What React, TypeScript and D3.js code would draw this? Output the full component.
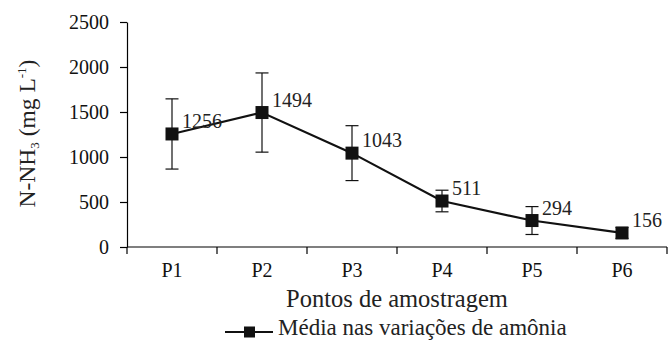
import React, { useEffect, useRef } from 'react';
import * as d3 from 'd3';

const points = ['P1', 'P2', 'P3', 'P4', 'P5', 'P6'];
const means = [1256, 1494, 1043, 511, 294, 156];
const errors = [390, 440, 305, 120, 155, 60];
const yTicks = [0, 500, 1000, 1500, 2000, 2500];

const W = 668;
const H = 340;
const FONT = "'Liberation Serif', 'Times New Roman', Tinos, 'DejaVu Serif', serif";

function App() {
  const ref = useRef<SVGSVGElement>(null);

  useEffect(() => {
    const svg = d3.select(ref.current);
    svg.selectAll('*').remove();

    const left = 127, right = 667, top = 22, bottom = 247;

    const x = d3.scaleBand<string>().domain(points).range([left, right]);
    const y = d3.scaleLinear().domain([0, 2500]).range([bottom, top]);
    const cx = (p: string) => (x(p) as number) + x.bandwidth() / 2;

    // y axis
    const ya = svg.append('g')
      .attr('transform', `translate(${left},0)`)
      .call(d3.axisLeft(y).tickValues(yTicks).tickFormat(d3.format('d')).tickSize(7).tickPadding(11).tickSizeOuter(0));
    ya.attr('font-family', FONT).attr('font-size', 20);
    ya.select('.domain').attr('stroke', '#000').attr('stroke-width', 1.2);
    ya.selectAll('line').attr('stroke', '#000').attr('stroke-width', 1.2);
    ya.selectAll('text').attr('fill', '#111');

    // x axis
    const xa = svg.append('g').attr('transform', `translate(0,${bottom})`)
      .attr('font-family', FONT).attr('font-size', 20);
    xa.append('line').attr('x1', left).attr('x2', right).attr('stroke', '#000').attr('stroke-width', 1.2);
    const bounds = points.map(p => x(p) as number).concat([right]);
    xa.selectAll('line.tk').data(bounds).enter().append('line')
      .attr('class', 'tk')
      .attr('x1', d => d).attr('x2', d => d).attr('y1', 0).attr('y2', 7)
      .attr('stroke', '#000').attr('stroke-width', 1.2);
    xa.selectAll('text').data(points).enter().append('text')
      .attr('x', d => cx(d)).attr('y', 30)
      .attr('text-anchor', 'middle')
      .attr('fill', '#111')
      .text(d => d);

    // error bars
    const eb = svg.append('g').attr('stroke', '#111').attr('stroke-width', 1.2);
    points.forEach((p, i) => {
      const hi = y(means[i] + errors[i]);
      const lo = y(means[i] - errors[i]);
      eb.append('line').attr('x1', cx(p)).attr('x2', cx(p)).attr('y1', hi).attr('y2', lo);
      eb.append('line').attr('x1', cx(p) - 6.5).attr('x2', cx(p) + 6.5).attr('y1', hi).attr('y2', hi);
      eb.append('line').attr('x1', cx(p) - 6.5).attr('x2', cx(p) + 6.5).attr('y1', lo).attr('y2', lo);
    });

    // line
    const line = d3.line<number>().x((d, i) => cx(points[i])).y(d => y(d));
    svg.append('path').datum(means)
      .attr('d', line).attr('fill', 'none').attr('stroke', '#111').attr('stroke-width', 2.2);

    // markers
    svg.selectAll('rect.mk').data(means).enter().append('rect')
      .attr('class', 'mk')
      .attr('x', (d, i) => cx(points[i]) - 6.5).attr('y', d => y(d) - 6.5)
      .attr('width', 13).attr('height', 13).attr('fill', '#111');

    // value labels
    svg.selectAll('text.lbl').data(means).enter().append('text')
      .attr('class', 'lbl')
      .attr('x', (d, i) => cx(points[i]) + 10).attr('y', d => y(d) - 6)
      .attr('font-family', FONT).attr('font-size', 20).attr('fill', '#222')
      .text(d => d);

    // x title
    svg.append('text')
      .attr('x', (left + right) / 2).attr('y', 307)
      .attr('text-anchor', 'middle')
      .attr('font-family', FONT).attr('font-size', 24.5).attr('fill', '#222')
      .text('Pontos de amostragem');

    // y title
    const yt = svg.append('text')
      .attr('transform', `translate(35,${(top + bottom) / 2 - 1}) rotate(-90)`)
      .attr('text-anchor', 'middle')
      .attr('font-family', FONT).attr('font-size', 23.5).attr('fill', '#222');
    yt.append('tspan').text('N-NH');
    yt.append('tspan').attr('dy', 4).attr('font-size', 13).text('3');
    yt.append('tspan').attr('dy', -4).text(' (mg L');
    yt.append('tspan').attr('dy', -9).attr('font-size', 13).text('-1');
    yt.append('tspan').attr('dy', 9).text(')');

    // legend
    const lg = svg.append('g').attr('transform', 'translate(225,332)');
    lg.append('line').attr('x1', 0).attr('x2', 48).attr('stroke', '#111').attr('stroke-width', 2.2);
    lg.append('rect').attr('x', 19).attr('y', -5.5).attr('width', 11).attr('height', 11).attr('fill', '#111');
    lg.append('text').attr('x', 53).attr('y', 3)
      .attr('font-family', FONT).attr('font-size', 23).attr('fill', '#222')
      .text('Média nas variações de amônia');
  }, []);

  return (
    <svg ref={ref} width={W} height={H}
      style={{ position: 'absolute', left: 0, top: 0, background: '#fff' }} />
  );
}

export default App;
